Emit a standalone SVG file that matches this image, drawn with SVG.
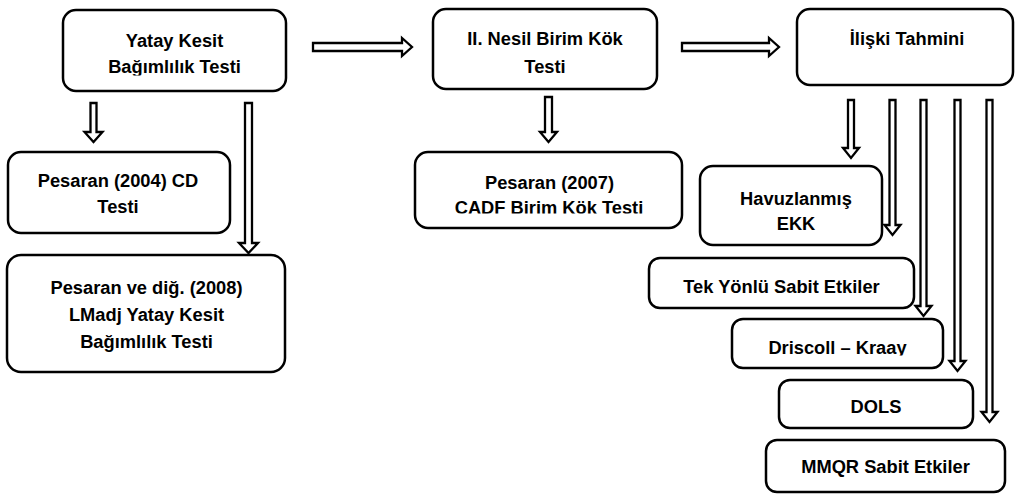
<svg xmlns="http://www.w3.org/2000/svg" width="1015" height="494" viewBox="0 0 1015 494">
<style>
.box{fill:#fff;stroke:#000;stroke-width:2.5}
.t{font-family:"Liberation Sans",Arial,sans-serif;font-weight:bold;font-size:18.3px;fill:#000;text-anchor:middle}
.arr{fill:#fff;stroke:#000;stroke-width:2.3;stroke-linejoin:miter}
</style>
<defs>
<clipPath id="c1"><rect x="0" y="0" width="1015" height="75.5"/></clipPath>
<clipPath id="c2"><rect x="0" y="0" width="1015" height="213.5"/></clipPath>
<clipPath id="c3"><rect x="0" y="0" width="1015" height="355.5"/></clipPath>
</defs>
<rect width="1015" height="494" fill="#fff"/>
<g id="connectors">
<path class="arr" d="M90.5,103 L96.5,103 L96.5,132 L102.5,132 L93.5,142 L84.5,132 L90.5,132 Z"/>
<path class="arr" d="M245,103 L252,103 L252,243 L258,243 L248.5,253 L239,243 L245,243 Z"/>
<path class="arr" d="M545,97 L552,97 L552,132 L557,132 L548.5,142 L540,132 L545,132 Z"/>
<path class="arr" d="M313,43 L402,43 L402,38 L412,47 L402,56 L402,51 L313,51 Z"/>
<path class="arr" d="M682,43 L769,43 L769,38 L779,47 L769,56 L769,51 L682,51 Z"/>
<path class="arr" d="M848,100 L854,100 L854,148 L859,148 L851,158 L843,148 L848,148 Z"/>
<path class="arr" d="M889.5,100 L895.5,100 L895.5,225 L900.5,225 L892.5,235 L884.5,225 L889.5,225 Z"/>
<path class="arr" d="M920.5,100 L926.5,100 L926.5,306 L931.5,306 L923.5,316 L915.5,306 L920.5,306 Z"/>
<path class="arr" d="M954.5,100 L960.5,100 L960.5,361 L965.5,361 L957.5,371 L949.5,361 L954.5,361 Z"/>
<path class="arr" d="M986.5,100 L992.5,100 L992.5,412 L997.5,412 L989.5,422 L981.5,412 L986.5,412 Z"/>
</g>
<g id="yatay">
<rect class="box" x="63" y="10" width="223" height="81" rx="13"/>
<text class="t" x="174.5" y="47">Yatay Kesit</text>
<text class="t" x="174.5" y="73" clip-path="url(#c1)">Bağımlılık Testi</text>
</g>
<g id="pesaran2004">
<rect class="box" x="8" y="152" width="222" height="81" rx="13"/>
<text class="t" x="118" y="187">Pesaran (2004) CD</text>
<text class="t" x="118" y="213">Testi</text>
</g>
<g id="pesaran2008">
<rect class="box" x="7" y="255" width="278" height="117" rx="14"/>
<text class="t" x="146.5" y="294">Pesaran ve diğ. (2008)</text>
<text class="t" x="146.5" y="321">LMadj Yatay Kesit</text>
<text class="t" x="146.5" y="348">Bağımlılık Testi</text>
</g>
<g id="nesil">
<rect class="box" x="433" y="9" width="224" height="80" rx="13"/>
<text class="t" x="545" y="45">II. Nesil Birim Kök</text>
<text class="t" x="545" y="73">Testi</text>
</g>
<g id="pesaran2007">
<rect class="box" x="415" y="152" width="267" height="76" rx="13"/>
<text class="t" x="549.5" y="189">Pesaran (2007)</text>
<text class="t" x="549" y="214" clip-path="url(#c2)">CADF Birim Kök Testi</text>
</g>
<g id="iliski">
<rect class="box" x="797" y="9" width="216" height="76" rx="13"/>
<text class="t" x="907" y="45">İlişki Tahmini</text>
</g>
<g id="havuz">
<rect class="box" x="700" y="166" width="182" height="79" rx="13"/>
<text class="t" x="796" y="205">Havuzlanmış</text>
<text class="t" x="796" y="230">EKK</text>
</g>
<g id="tekyonlu">
<rect class="box" x="649" y="258" width="265" height="50" rx="11"/>
<text class="t" x="781.5" y="293">Tek Yönlü Sabit Etkiler</text>
</g>
<g id="driscoll">
<rect class="box" x="732" y="319" width="211" height="49" rx="11"/>
<text class="t" x="837.5" y="354" clip-path="url(#c3)">Driscoll – Kraay</text>
</g>
<g id="dols">
<rect class="box" x="779" y="380" width="194" height="48" rx="11"/>
<text class="t" x="876" y="413">DOLS</text>
</g>
<g id="mmqr">
<rect class="box" x="766" y="440" width="239" height="52" rx="11"/>
<text class="t" x="885.5" y="473">MMQR Sabit Etkiler</text>
</g>
</svg>
